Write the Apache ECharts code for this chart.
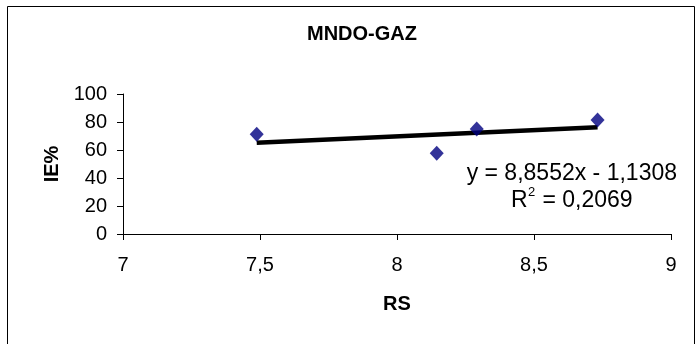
<!DOCTYPE html>
<html>
<head>
<meta charset="utf-8">
<script src="https://cdn.jsdelivr.net/npm/echarts@6/dist/echarts.min.js"></script>
<style>
  html, body { margin: 0; padding: 0; background: #fff; }
  #chart { width: 698px; height: 344px; }
</style>
</head>
<body>
<div id="chart"></div>
<script>
// Measured RS values and inhibition efficiency (IE%)
const rsValues = [7.488, 8.145, 8.291, 8.732];
const iePercent = [71.2, 57.6, 75.0, 81.4];

// Linear trend line coefficients and fit quality
const slope = 8.8552;
const intercept = -1.1308;
const rSquared = '0,2069';

const points = rsValues.map((x, i) => [x, iePercent[i]]);
const xMin = Math.min(...rsValues);
const xMax = Math.max(...rsValues);
const trend = [[xMin, slope * xMin + intercept], [xMax, slope * xMax + intercept]];

const fmt = v => String(v).replace('.', ',');
const font = '"Liberation Sans", Arial, sans-serif';

const chart = echarts.init(document.getElementById('chart'), null, { renderer: 'canvas' });
chart.setOption({
  animation: false,
  backgroundColor: '#fff',
  title: {
    text: 'MNDO-GAZ',
    left: 357, top: 19, textAlign: 'center',
    textStyle: { fontFamily: font, fontSize: 20, fontWeight: 'bold', color: '#000' }
  },
  grid: { left: 123, right: 27, top: 94, bottom: 110 },
  xAxis: {
    type: 'value', min: 7, max: 9, interval: 0.5,
    name: 'RS', nameLocation: 'middle', nameGap: 60,
    nameTextStyle: { fontFamily: font, fontSize: 20, fontWeight: 'bold', color: '#000' },
    axisLine: { show: true, lineStyle: { color: '#000', width: 1 } },
    axisTick: { show: true, length: 6, lineStyle: { color: '#000' } },
    splitLine: { show: false },
    axisLabel: {
      fontFamily: font, fontSize: 20, color: '#000', margin: 21,
      formatter: v => fmt(v)
    }
  },
  yAxis: {
    type: 'value', min: 0, max: 100, interval: 20,
    name: 'IE%', nameLocation: 'middle', nameGap: 60, nameRotate: 90,
    nameTextStyle: { fontFamily: font, fontSize: 20, fontWeight: 'bold', color: '#000' },
    axisLine: { show: true, lineStyle: { color: '#000', width: 1 } },
    axisTick: { show: true, length: 6, lineStyle: { color: '#000' } },
    splitLine: { show: false },
    axisLabel: { fontFamily: font, fontSize: 20, color: '#000', margin: 16 }
  },
  series: [
    {
      type: 'line',
      data: trend,
      symbol: 'none',
      lineStyle: { color: '#000', width: 4.5 },
      z: 2
    },
    {
      type: 'scatter',
      data: points,
      symbol: 'diamond',
      symbolSize: [14, 15],
      itemStyle: { color: '#000080' },
      z: 3
    }
  ],
  graphic: [
    {
      type: 'rect',
      shape: { x: 7.5, y: 6.5, width: 687, height: 345 },
      style: { fill: 'none', stroke: '#000', lineWidth: 1 }
    },
    {
      type: 'text',
      right: 21, top: 162,
      style: {
        text: 'y = ' + fmt(slope) + 'x - ' + fmt(-intercept),
        font: '23px ' + font, fill: '#000'
      }
    },
    {
      // R² line: base letter, raised exponent, then the value
      type: 'group',
      left: 511, top: 186,
      children: [
        { type: 'text', x: 0, y: 6, style: { text: 'R', font: '23px ' + font, fill: '#000' } },
        { type: 'text', x: 17, y: 3, style: { text: '2', font: '13px ' + font, fill: '#000' } },
        { type: 'text', x: 25, y: 6, style: { text: ' = ' + rSquared, font: '23px ' + font, fill: '#000' } }
      ]
    }
  ]
});
</script>
</body>
</html>
